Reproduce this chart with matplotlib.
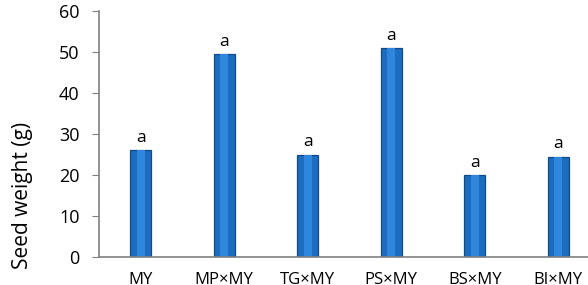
import matplotlib.pyplot as plt

# data
crosses = ['MY', 'MP×MY', 'TG×MY', 'PS×MY', 'BS×MY', 'BI×MY']
seed_weight = [26, 49.5, 25, 51, 20, 24.5]
letters = ['a', 'a', 'a', 'a', 'a', 'a']
yticks = [0, 10, 20, 30, 40, 50, 60]

fig = plt.figure(figsize=(5.88, 2.85), dpi=100)
ax = fig.add_axes([99/588, 28/285, 501/588, 246/285])

xs = list(range(len(crosses)))
ax.bar(xs, seed_weight, width=0.25, color='#1c6dc0', edgecolor='#124a86', linewidth=0.9)
# lighter highlight down the middle of each bar
ax.bar(xs, seed_weight, width=0.09, color='#2f86dc', linewidth=0)

for x, v, t in zip(xs, seed_weight, letters):
    ax.text(x, v + 1, t, ha='center', va='bottom', fontsize=12.5, family='Open Sans')

ax.set_xlim(-0.5, len(crosses) - 0.5)
ax.set_ylim(0, 60)
ax.set_yticks(yticks)
ax.set_xticks(xs)
ax.set_xticklabels(crosses, fontsize=12, family='Open Sans')
ax.tick_params(axis='x', length=0, pad=11)
ax.tick_params(axis='y', length=5, color='#808080', labelsize=13, pad=9)
for lab in ax.get_yticklabels():
    lab.set_family('Open Sans')
ax.set_ylabel('Seed weight (g)', fontsize=15, family='Open Sans', va='center')
ax.yaxis.set_label_coords(-0.152, 0.25)

for side in ['top', 'right']:
    ax.spines[side].set_visible(False)
for side in ['left', 'bottom']:
    ax.spines[side].set_color('#808080')
    ax.spines[side].set_linewidth(1.2)

fig.savefig('out.png', dpi=100)
